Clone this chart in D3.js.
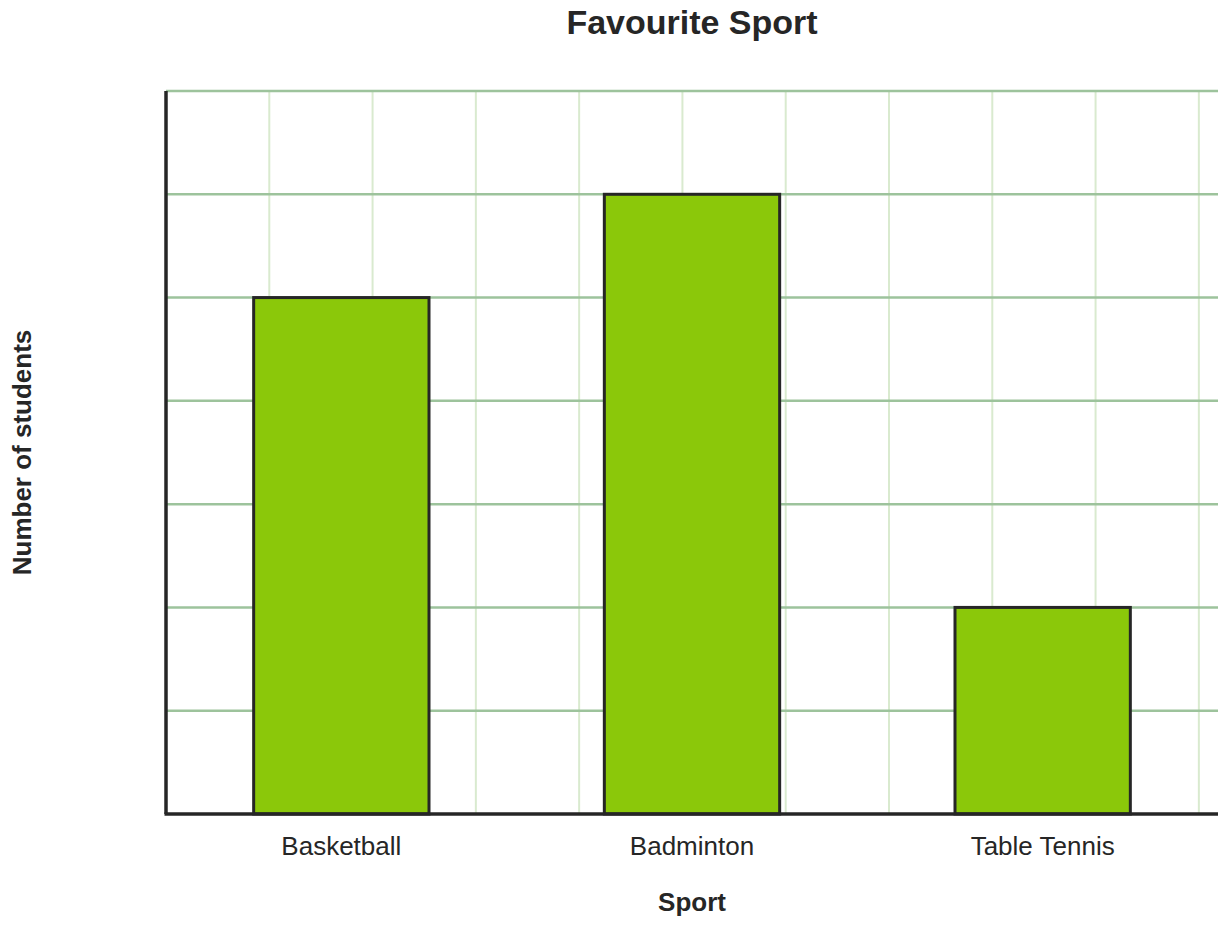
<!DOCTYPE html>
<html>
<head>
<meta charset="utf-8">
<script src="https://cdn.jsdelivr.net/npm/d3@7"></script>
<style>
  body { margin: 0; background: #fff; }
  text { font-family: "Liberation Sans", Arial, sans-serif; fill: #262626; }
</style>
</head>
<body>
<div id="chart"></div>
<script>
// data
var sports = ["Basketball", "Badminton", "Table Tennis"]
var students = [5, 6, 2]
var yMax = 7
var gridCols = 10

var W = 1228, H = 926
var mLeft = 166, mRight = 1218, mTop = 91, mBottom = 814

var svg = d3.select('#chart')
  .append('svg')
  .attr("width", W)
  .attr("height", H)

var x = d3.scaleBand()
  .domain(sports)
  .range([mLeft, mRight])
  .paddingInner(0.5)
  .paddingOuter(0.25)

var y = d3.scaleLinear()
  .domain([0, yMax])
  .range([mBottom, mTop])

// vertical grid uses same unit size as y
var unit = (mBottom - mTop) / yMax
var xg = d3.scaleLinear()
  .domain([0, gridCols])
  .range([mLeft, mLeft + unit * gridCols])

svg.append("g")
  .selectAll("line")
  .data(d3.range(1, gridCols + 1))
  .enter()
  .append("line")
  .attr("x1", function (d) { return xg(d) })
  .attr("x2", function (d) { return xg(d) })
  .attr("y1", mTop)
  .attr("y2", mBottom)
  .attr("stroke", "#d9eacf")
  .attr("stroke-width", 2)

svg.append("g")
  .selectAll("line")
  .data(d3.range(1, yMax + 1))
  .enter()
  .append("line")
  .attr("x1", mLeft)
  .attr("x2", mRight)
  .attr("y1", function (d) { return y(d) })
  .attr("y2", function (d) { return y(d) })
  .attr("stroke", "#9dc39c")
  .attr("stroke-width", 2.5)

// bars
svg.append("g")
  .selectAll("rect")
  .data(sports)
  .enter()
  .append("rect")
  .attr("x", function (d) { return x(d) })
  .attr("y", function (d, i) { return y(students[i]) })
  .attr("width", x.bandwidth())
  .attr("height", function (d, i) { return y(0) - y(students[i]) })
  .attr("fill", "#8bc80a")
  .attr("stroke", "#262626")
  .attr("stroke-width", 3)

// axes
var xAxis = svg.append("g")
  .attr("transform", "translate(0," + mBottom + ")")
  .call(d3.axisBottom(x).tickSize(0).tickPadding(23))
xAxis.select(".domain").remove()
xAxis.selectAll("text")
  .attr("font-size", 26)
  .attr("font-family", "Liberation Sans, Arial, sans-serif")
  .attr("fill", "#262626")

svg.append("line")
  .attr("x1", mLeft - 1.5).attr("x2", mRight)
  .attr("y1", mBottom).attr("y2", mBottom)
  .attr("stroke", "#262626").attr("stroke-width", 3.5)
svg.append("line")
  .attr("x1", mLeft).attr("x2", mLeft)
  .attr("y1", mTop).attr("y2", mBottom)
  .attr("stroke", "#262626").attr("stroke-width", 3.5)

// labels
svg.append("text")
  .attr("x", 692).attr("y", 34)
  .attr("text-anchor", "middle")
  .attr("font-size", 34)
  .attr("font-weight", "bold")
  .text("Favourite Sport")

svg.append("text")
  .attr("x", 692).attr("y", 911)
  .attr("text-anchor", "middle")
  .attr("font-size", 26)
  .attr("font-weight", "bold")
  .text("Sport")

svg.append("text")
  .attr("transform", "translate(31," + ((mTop + mBottom) / 2) + ") rotate(-90)")
  .attr("text-anchor", "middle")
  .attr("font-size", 26)
  .attr("font-weight", "bold")
  .text("Number of students")
</script>
</body>
</html>
